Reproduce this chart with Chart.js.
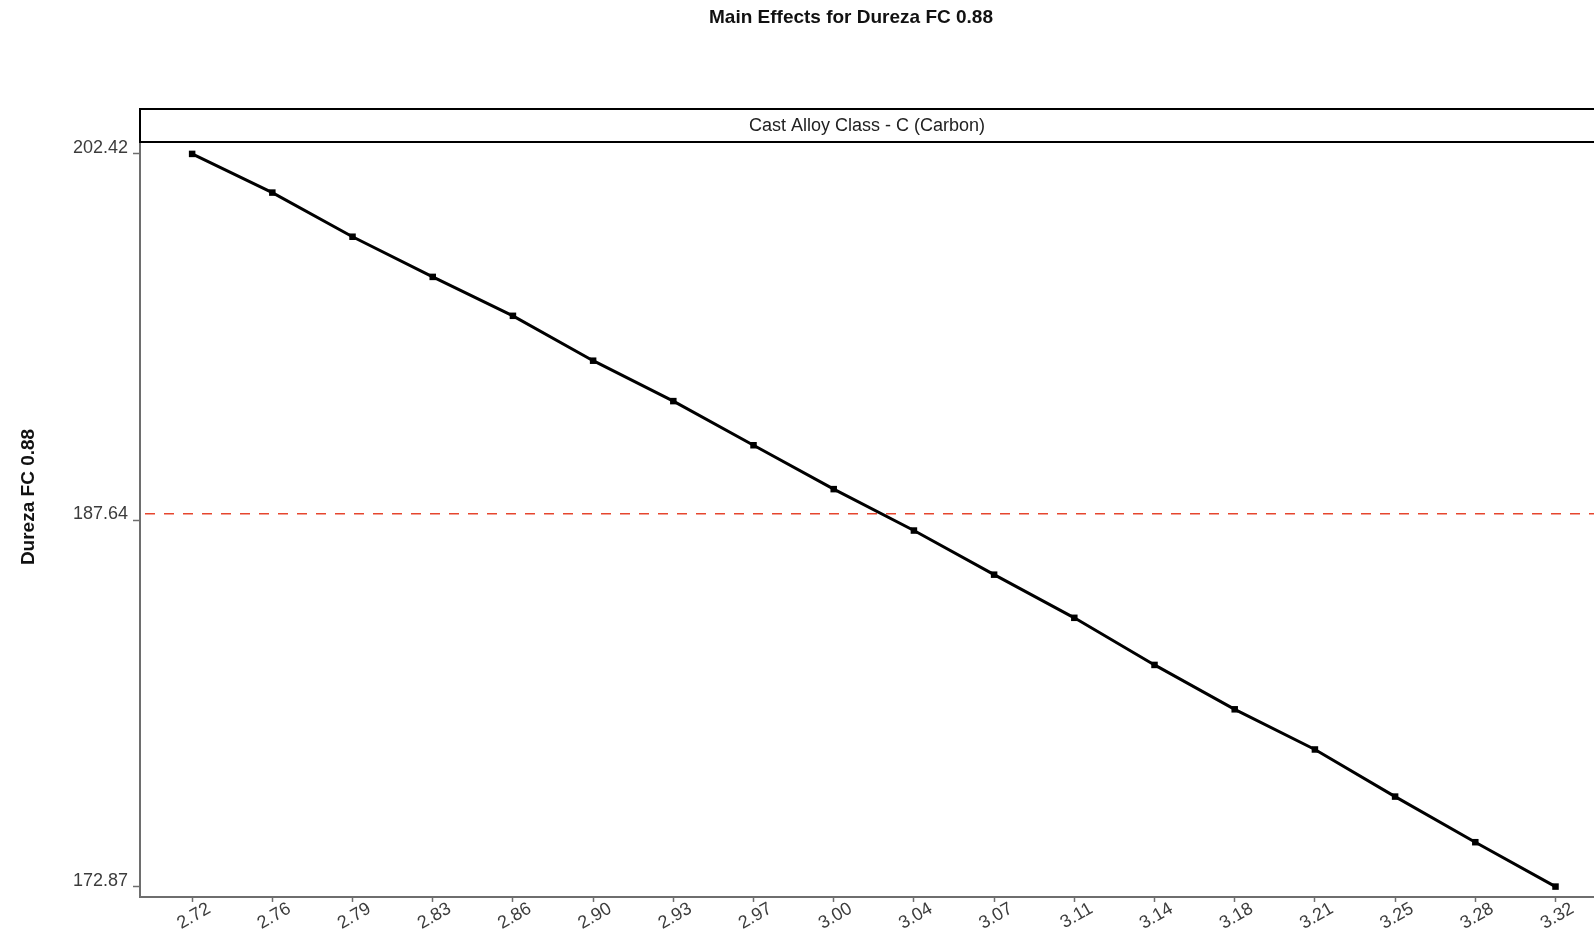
<!DOCTYPE html>
<html>
<head>
<meta charset="utf-8">
<script src="https://cdn.jsdelivr.net/npm/chart.js@4.4.1/dist/chart.umd.min.js"></script>
<style>
  body { margin: 0; background: #fff; }
  #wrap { width: 1594px; height: 931px; position: relative; }
</style>
</head>
<body>
<div id="wrap"><canvas id="mainEffects"></canvas></div>
<script>
const carbonLabels = ["2.72", "2.76", "2.79", "2.83", "2.86", "2.90", "2.93", "2.97", "3.00",
  "3.04", "3.07", "3.11", "3.14", "3.18", "3.21", "3.25", "3.28", "3.32"];
const durezaMeans = [202.42, 200.86, 199.08, 197.46, 195.89, 194.08, 192.45, 190.67, 188.90,
  187.23, 185.45, 183.71, 181.81, 180.02, 178.40, 176.50, 174.66, 172.87];
const yTickValues = [172.87, 187.64, 202.42];
const overallMean = 187.91;

const chartTitle = "Main Effects for Dureza FC 0.88";
const stripLabel = "Cast Alloy Class - C (Carbon)";
const yAxisTitle = "Dureza FC 0.88";

const FONT = "'Liberation Sans', Arial, sans-serif";
const AXIS_GRAY = "#6e6e6e";

// strip, titles and the dashed mean line
const decorPlugin = {
  id: "decor",
  beforeDatasetsDraw(chart) {
    const { ctx, chartArea } = chart;
    const y = chart.scales.y.getPixelForValue(overallMean);
    ctx.save();
    ctx.strokeStyle = "#e6462e";
    ctx.lineWidth = 1.5;
    ctx.setLineDash([10, 9]);
    ctx.beginPath();
    ctx.moveTo(chartArea.left + 5, y);
    ctx.lineTo(chartArea.right, y);
    ctx.stroke();
    ctx.restore();
  },
  afterDraw(chart) {
    const { ctx, chartArea } = chart;
    ctx.save();
    // strip above the panel
    ctx.strokeStyle = "#000";
    ctx.lineWidth = 2;
    ctx.strokeRect(chartArea.left, 109, chartArea.right - chartArea.left + 10, chartArea.top - 110);
    ctx.fillStyle = "#222";
    ctx.font = "18px " + FONT;
    ctx.textAlign = "center";
    ctx.textBaseline = "middle";
    ctx.fillText(stripLabel, (chartArea.left + chartArea.right) / 2, 126);

    // main title
    ctx.fillStyle = "#111";
    ctx.font = "bold 19px " + FONT;
    ctx.textBaseline = "alphabetic";
    ctx.fillText(chartTitle, 851, 23);

    // y axis title
    ctx.translate(34, 497);
    ctx.rotate(-Math.PI / 2);
    ctx.fillText(yAxisTitle, 0, 0);
    ctx.restore();
  }
};

const ctx = document.getElementById("mainEffects");

new Chart(ctx, {
  type: "line",
  data: {
    datasets: [
      {
        label: "Dureza FC 0.88",
        data: durezaMeans.map((v, i) => ({ x: i, y: v })),
        borderColor: "#000",
        backgroundColor: "#000",
        borderWidth: 3,
        pointStyle: "rect",
        pointRadius: 4.6,
        pointBorderWidth: 0,
        pointHoverRadius: 4.6,
        tension: 0,
      },
    ],
  },
  options: {
    responsive: true,
    maintainAspectRatio: false,
    animation: false,
    events: [],
    layout: {
      autoPadding: false,
      padding: { top: 143, left: 0, right: 0, bottom: 0 },
    },
    plugins: {
      legend: { display: false },
      title: { display: false },
      tooltip: { enabled: false },
    },
    scales: {
      x: {
        type: "linear",
        min: -0.65,
        max: 17.48,
        afterBuildTicks(scale) {
          scale.ticks = carbonLabels.map((_, i) => ({ value: i }));
        },
        afterFit(scale) {
          scale.height = 34;
          scale.paddingLeft = 0;
          scale.paddingRight = 0;
        },
        ticks: {
          autoSkip: false,
          minRotation: 30,
          maxRotation: 30,
          labelOffset: 17,
          padding: -4,
          color: "#3c3c3c",
          font: { family: FONT, size: 18 },
          callback: (value) => carbonLabels[value],
        },
        grid: {
          drawOnChartArea: false,
          drawTicks: true,
          tickLength: 5,
          tickColor: AXIS_GRAY,
          tickWidth: 1.5,
        },
        border: { display: true, color: AXIS_GRAY, width: 2 },
      },
      y: {
        min: 172.45,
        max: 202.86,
        afterBuildTicks(scale) {
          scale.ticks = yTickValues.map((v) => ({ value: v }));
        },
        afterFit(scale) {
          scale.width = 140;
          scale.paddingTop = 0;
          scale.paddingBottom = 0;
        },
        ticks: {
          padding: 5,
          labelOffset: -6,
          color: "#3c3c3c",
          font: { family: FONT, size: 18 },
          callback: (value) => value.toFixed(2),
        },
        grid: {
          drawOnChartArea: false,
          tickLength: 7,
          tickColor: AXIS_GRAY,
          tickWidth: 1.5,
        },
        border: { display: true, color: AXIS_GRAY, width: 2 },
      },
    },
  },
  plugins: [decorPlugin],
});
</script>
</body>
</html>
